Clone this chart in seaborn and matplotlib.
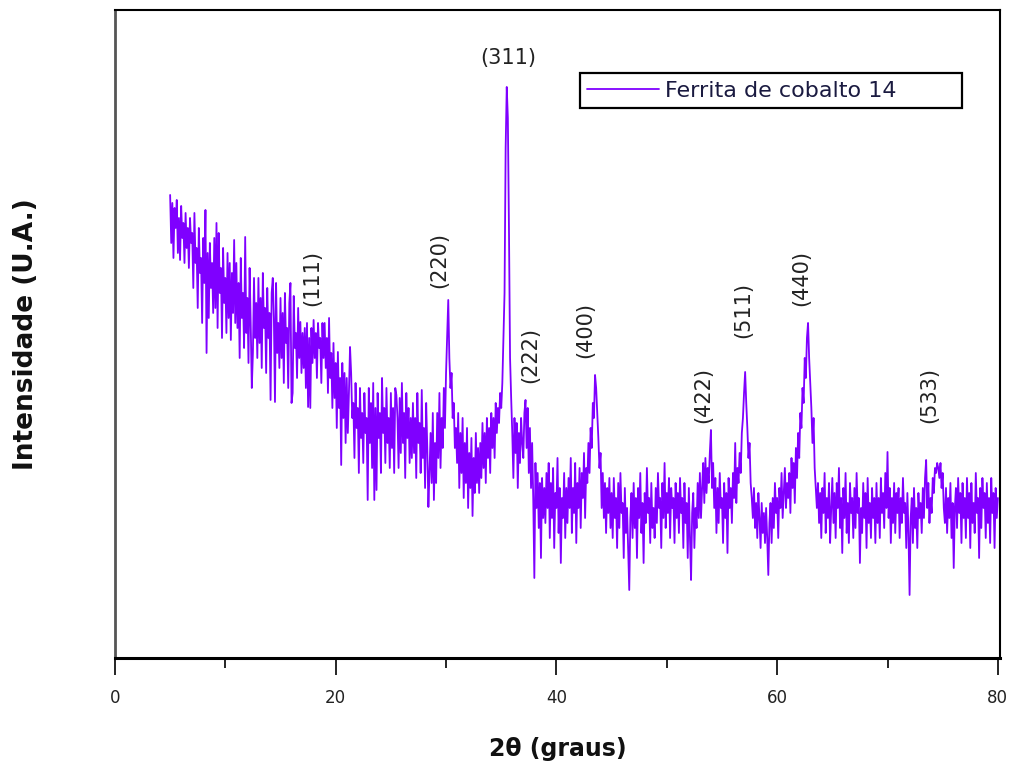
import numpy as np
import pandas as pd
import matplotlib
matplotlib.use("Agg")
import matplotlib.pyplot as plt
import seaborn as sns
from matplotlib.ticker import MultipleLocator

# 2theta from 5.0 to 80.0 in 0.1 degree steps (751 points)
two_theta = np.round(np.arange(5.0, 80.00001, 0.1), 1)

# intensity (arbitrary units), 20 points per 2 degrees
intensity = [
    463, 415, 455, 400, 450, 430, 458, 405, 440, 398, 452, 420, 435, 395, 445, 410, 430, 390, 440, 415,  # 5.0
    425, 370, 445, 395, 410, 350, 430, 385, 400, 335, 420, 375, 448, 305, 405, 340, 415, 370, 395, 345,  # 7.0
    420, 350, 435, 330, 425, 365, 390, 320, 410, 355, 380, 325, 405, 340, 395, 318, 385, 345, 418, 335,  # 9.0
    395, 330, 375, 300, 400, 340, 365, 310, 421, 325, 360, 295, 390, 335, 270, 305, 380, 320, 355, 300,  # 11.0
    380, 315, 360, 290, 385, 330, 350, 285, 370, 320, 345, 258, 365, 380, 340, 256, 375, 305, 335, 290,  # 13.0
    360, 300, 345, 275, 365, 315, 330, 270, 355, 375, 255, 265, 362, 310, 325, 280, 350, 300, 336, 285,  # 15.0
    325, 290, 330, 270, 335, 251, 320, 250, 330, 295, 338, 300, 325, 280, 335, 310, 320, 275, 335, 300,  # 17.0
    335, 290, 320, 265, 340, 280, 305, 250, 315, 260, 295, 230, 306, 250, 280, 193, 295, 240, 285, 215,  # 19.0
    280, 225, 265, 311, 285, 240, 255, 200, 275, 230, 250, 185, 270, 220, 245, 195, 265, 225, 240, 158,  # 21.0
    270, 215, 255, 190, 275, 158, 250, 168, 265, 220, 245, 185, 280, 225, 250, 195, 270, 215, 240, 190,  # 23.0
    265, 210, 250, 185, 270, 263, 240, 190, 260, 205, 275, 215, 245, 180, 265, 220, 250, 195, 240, 200,  # 25.0
    255, 205, 240, 180, 265, 215, 235, 185, 268, 200, 230, 170, 255, 210, 151, 185, 225, 175, 245, 158,  # 27.0
    215, 175, 245, 200, 265, 190, 240, 210, 270, 230, 285, 320, 358, 300, 270, 285, 240, 255, 210, 230,  # 29.0
    195, 245, 170, 225, 185, 240, 160, 215, 175, 230, 150, 205, 170, 220, 142, 200, 165, 225, 175, 210,  # 31.0
    165, 215, 180, 235, 190, 225, 175, 240, 200, 230, 185, 245, 210, 240, 200, 255, 225, 250, 235, 265,  # 33.0
    250, 275, 320, 365, 510, 571, 540, 430, 300, 260, 225, 180, 240, 205, 235, 170, 225, 195, 240, 215,  # 35.0
    200, 245, 258, 210, 250, 185, 230, 170, 215, 160, 80, 195, 150, 185, 130, 175, 100, 180, 140, 170,   # 37.0
    135, 185, 150, 195, 120, 175, 140, 190, 110, 165, 150, 200, 125, 170, 95, 160, 140, 185, 120, 170,   # 39.0
    135, 180, 150, 200, 125, 170, 145, 195, 115, 175, 150, 190, 130, 185, 160, 205, 140, 190, 175, 215,  # 41.0
    185, 230, 210, 255, 240, 283, 270, 245, 220, 190, 205, 150, 185, 140, 175, 125, 170, 145, 180, 130,  # 43.0
    165, 120, 180, 140, 160, 110, 175, 130, 185, 145, 155, 100, 170, 125, 150, 110, 68, 140, 165, 120,   # 45.0
    175, 130, 160, 100, 170, 140, 185, 125, 155, 95, 165, 135, 190, 145, 160, 115, 175, 130, 150, 120,   # 47.0
    170, 135, 185, 150, 160, 110, 175, 140, 195, 130, 165, 145, 180, 120, 170, 150, 160, 115, 175, 140,  # 49.0
    165, 125, 180, 145, 160, 110, 175, 135, 155, 100, 170, 120, 78, 145, 165, 110, 150, 130, 175, 140,   # 51.0
    185, 140, 170, 195, 155, 200, 165, 190, 175, 205, 228, 170, 195, 150, 180, 125, 170, 135, 185, 150,  # 53.0
    160, 115, 175, 140, 165, 105, 180, 150, 170, 135, 185, 160, 215, 155, 190, 175, 205, 185, 225, 240,  # 55.0
    265, 286, 255, 230, 200, 215, 175, 160, 140, 170, 130, 155, 120, 165, 140, 110, 155, 125, 145, 115,  # 57.0
    150, 120, 83, 135, 155, 115, 160, 130, 175, 145, 160, 120, 170, 150, 185, 140, 165, 190, 150, 175,   # 59.0
    160, 185, 145, 200, 170, 195, 155, 210, 180, 225, 200, 245, 230, 270, 255, 300, 280, 320, 335, 300,  # 61.0
    275, 250, 215, 240, 190, 170, 150, 175, 135, 165, 120, 170, 145, 185, 125, 160, 140, 175, 115, 150,  # 63.0
    180, 135, 165, 120, 175, 150, 190, 130, 160, 105, 170, 140, 185, 125, 155, 115, 175, 145, 160, 120,  # 65.0
    170, 130, 185, 145, 160, 95, 150, 125, 175, 140, 165, 110, 180, 135, 155, 120, 170, 140, 160, 115,   # 67.0
    175, 135, 160, 120, 180, 145, 165, 130, 185, 150, 206, 140, 170, 115, 160, 135, 175, 125, 165, 145,  # 69.0
    170, 120, 160, 135, 180, 145, 155, 110, 165, 125, 63, 140, 160, 115, 170, 130, 150, 110, 165, 140,   # 71.0
    155, 125, 170, 140, 180, 198, 150, 175, 135, 160, 145, 180, 165, 190, 185, 195, 190, 180, 195, 170,  # 73.0
    185, 150, 135, 170, 125, 160, 140, 175, 120, 155, 90, 150, 170, 130, 180, 145, 165, 115, 175, 140,   # 75.0
    160, 120, 180, 140, 165, 110, 175, 135, 155, 125, 185, 145, 160, 100, 170, 130, 180, 150, 165, 120,  # 77.0
    175, 135, 160, 115, 180, 145, 165, 110, 170, 140, 160,                                                 # 79.0
]

# peak annotations (Miller indices) and their positions
peak_labels = ["(111)", "(220)", "(311)", "(222)", "(400)", "(422)", "(511)", "(440)", "(533)"]
peak_label_x = [17.9, 29.4, 35.6, 37.6, 42.6, 53.3, 56.9, 62.2, 73.8]
peak_label_y = [380, 398, 600, 303, 328, 263, 348, 380, 263]
peak_label_rot = [90, 90, 0, 90, 90, 90, 90, 90, 90]

series_name = "Ferrita de cobalto 14"
x_ticks = [0, 20, 40, 60, 80]

df = pd.DataFrame({"2theta": two_theta, "I": intensity})

sns.set_theme(style="ticks")
plt.rcParams["font.family"] = ["DejaVu Sans"]

fig = plt.figure(figsize=(10.11, 7.66), dpi=100)
ax = fig.add_axes([0.1137, 0.141, 0.8755, 0.846])

sns.lineplot(data=df, x="2theta", y="I", ax=ax, color="#7F00FF", linewidth=1.3,
             estimator=None, sort=False, label=series_name)

ax.set_xlim(0, 80.2)
ax.set_ylim(0, 648)
ax.set_xticks(x_ticks)
ax.set_xticklabels([str(t) for t in x_ticks], fontsize=12, color="#222222")
ax.xaxis.set_minor_locator(MultipleLocator(10))
ax.tick_params(axis="x", which="major", length=12, width=1.2, direction="out", color="black", pad=10)
ax.tick_params(axis="x", which="minor", length=7, width=1.2, direction="out", color="black")
ax.set_yticks([])

for side in ["top", "right", "bottom", "left"]:
    ax.spines[side].set_visible(True)
    ax.spines[side].set_color("black")
    ax.spines[side].set_linewidth(1.5)
ax.spines["left"].set_color("#555555")
ax.spines["left"].set_linewidth(2.0)
ax.spines["bottom"].set_linewidth(2.2)

ax.set_xlabel("2θ (graus)", fontsize=17, fontweight="bold", labelpad=22, color="#111111")
ax.set_ylabel("Intensidade (U.A.)", fontsize=19, fontweight="bold", labelpad=55, color="#111111")

for txt, px, py, rot in zip(peak_labels, peak_label_x, peak_label_y, peak_label_rot):
    ax.text(px, py, txt, rotation=rot, ha="center", va="center", fontsize=15, color="#222222")

leg = ax.legend(loc="upper left", bbox_to_anchor=(0.525, 0.835, 0.432, 0.068), mode="expand",
                frameon=True, fancybox=False, shadow=False, framealpha=1, edgecolor="black",
                fontsize=16, handlelength=3.2, handletextpad=0.3, borderpad=0.35, borderaxespad=0)
leg.get_frame().set_linewidth(1.6)
for t in leg.get_texts():
    t.set_color("#1a1a40")

fig.savefig("out.png", dpi=100)
